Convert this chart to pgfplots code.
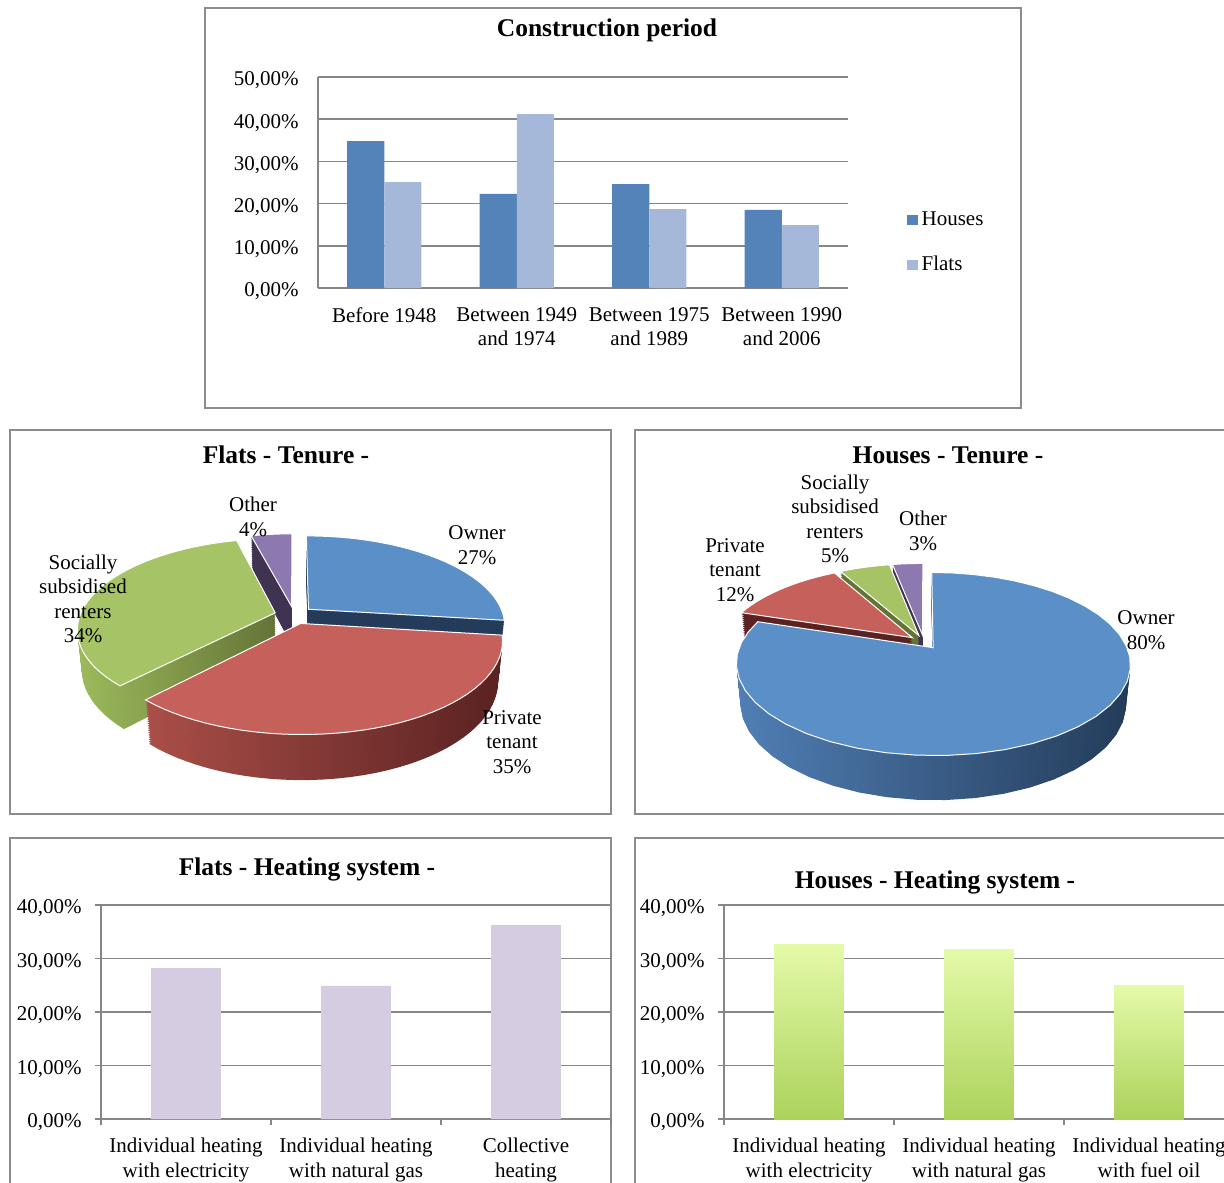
\documentclass[border=0pt]{standalone}
\usepackage{fontspec}
\setmainfont{Liberation Serif}
\usepackage{pgfplots}
\pgfplotsset{compat=1.18}

\definecolor{framec}{RGB}{140,140,140}
\definecolor{gridc}{RGB}{134,134,134}
\definecolor{hblue}{RGB}{83,131,185}
\definecolor{flblue}{RGB}{165,184,218}
\definecolor{lilac}{RGB}{213,204,226}
\definecolor{gtop}{RGB}{228,250,168}
\definecolor{gbot}{RGB}{172,210,92}
\definecolor{pblue}{RGB}{91,143,199}
\definecolor{pred}{RGB}{198,96,91}
\definecolor{pgreen}{RGB}{166,195,102}
\definecolor{ppurple}{RGB}{142,120,176}
\definecolor{dblue}{RGB}{36,60,90}
\definecolor{dbluel}{RGB}{80,126,180}
\definecolor{dred}{RGB}{90,34,33}
\definecolor{dredl}{RGB}{170,78,72}
\definecolor{dgreen}{RGB}{100,116,55}
\definecolor{dgreenl}{RGB}{156,186,91}
\definecolor{dpurple}{RGB}{63,51,82}

\newcommand\lbl{\fontsize{10.5}{12.25}\selectfont}
\newcommand\ttl{\bfseries\fontsize{12.75}{15}\selectfont}

% one pie slice at height z: #1 cx, #2 cy, #3 scale, #4 ex, #5 ey, #6 t1, #7 t2, #8 z, #9 style
\newcommand{\pslice}[9]{%
 \addplot[#9, domain=#6:#7, samples=40]
 ({#1+#3*PXn(#4+cos(x),#5+sin(x),#8)},{#2+#3*PYn(#4+cos(x),#5+sin(x),#8)})
 -- (axis cs:{#1+#3*PXn(#4,#5,#8)},{#2+#3*PYn(#4,#5,#8)}) -- cycle;}
% the side of a slice (union of lower copies)
\newcommand{\pwall}[8]{%
 \pgfplotsinvokeforeach{-0.231,-0.219,-0.207,-0.195,-0.183,-0.171,-0.159,-0.147,-0.135,-0.123,-0.111,-0.099,-0.087,-0.075,-0.063,-0.051,-0.039,-0.027,-0.015,-0.004}{%
 \pslice{#1}{#2}{#3}{#4}{#5}{#6}{#7}{##1}{#8}}}

% ---- pie data (percent) ----
\def\fOwner{27}\def\fPriv{35}\def\fSoc{34}\def\fOth{4}
\def\hOwner{80}\def\hPriv{12}\def\hSoc{5}\def\hOth{3}
\pgfmathsetmacro\fA{90}
\pgfmathsetmacro\fB{\fA-3.6*\fOwner}
\pgfmathsetmacro\fC{\fB-3.6*\fPriv}
\pgfmathsetmacro\fD{\fC-3.6*\fSoc}
\pgfmathsetmacro\fE{\fD-3.6*\fOth}
\pgfmathsetmacro\hA{90}
\pgfmathsetmacro\hB{\hA-3.6*\hOwner}
\pgfmathsetmacro\hC{\hB-3.6*\hPriv}
\pgfmathsetmacro\hD{\hC-3.6*\hSoc}
\pgfmathsetmacro\hE{\hD-3.6*\hOth}
% explosion offsets
\pgfmathsetmacro\fOwX{0.1*cos((\fA+\fB)/2)}\pgfmathsetmacro\fOwY{0.1*sin((\fA+\fB)/2)}
\pgfmathsetmacro\fPrX{0.1*cos((\fB+\fC)/2)}\pgfmathsetmacro\fPrY{0.1*sin((\fB+\fC)/2)}
\pgfmathsetmacro\fSoX{0.1*cos((\fC+\fD)/2)}\pgfmathsetmacro\fSoY{0.1*sin((\fC+\fD)/2)}
\pgfmathsetmacro\fOtX{0.1*cos((\fD+\fE)/2)}\pgfmathsetmacro\fOtY{0.1*sin((\fD+\fE)/2)}
\pgfmathsetmacro\hOwX{0.08*cos((\hA+\hB)/2)}\pgfmathsetmacro\hOwY{0.08*sin((\hA+\hB)/2)}
\pgfmathsetmacro\hPrX{0.08*cos((\hB+\hC)/2)}\pgfmathsetmacro\hPrY{0.08*sin((\hB+\hC)/2)}
\pgfmathsetmacro\hSoX{0.08*cos((\hC+\hD)/2)}\pgfmathsetmacro\hSoY{0.08*sin((\hC+\hD)/2)}
\pgfmathsetmacro\hOtX{0.08*cos((\hD+\hE)/2)}\pgfmathsetmacro\hOtY{0.08*sin((\hD+\hE)/2)}

\begin{document}%
\begin{tikzpicture}[trim left=0pt, trim right=612pt]
\path[use as bounding box] (0,0) rectangle (612pt,-591pt);
\clip (0,0) rectangle (612pt,-591pt);

% ===== canvas: frames, pies, titles =====
\begin{axis}[at={(0pt,0pt)}, anchor=north west, scale only axis,
 width=612pt, height=591pt, xmin=0, xmax=1224, ymin=0, ymax=1182,
 y dir=reverse, hide axis, clip=false,
 declare function={PD(\u,\v,\z)=5.06+0.892*\v-0.452*\z;
   PXn(\u,\v,\z)=\u/PD(\u,\v,\z);
   PYn(\u,\v,\z)=-(0.452*\v+0.892*\z)/PD(\u,\v,\z);}]
 \draw[framec, line width=1pt] (axis cs:205,8) rectangle (axis cs:1021,408);
 \draw[framec, line width=1pt] (axis cs:10,430) rectangle (axis cs:611,814);
 \draw[framec, line width=1pt] (axis cs:635,430) rectangle (axis cs:1250,814);
 \draw[framec, line width=1pt] (axis cs:10,838) rectangle (axis cs:611,1250);
 \draw[framec, line width=1pt] (axis cs:635,838) rectangle (axis cs:1250,1250);

 % ---- Flats pie ----
 \pwall{294}{615}{987}{\fOtX}{\fOtY}{\fE}{\fD}{fill=dpurple,draw=none}
 \pslice{294}{615}{987}{\fOtX}{\fOtY}{\fE}{\fD}{0}{fill=ppurple,draw=white,line width=0.5pt}
 \pwall{294}{615}{987}{\fOwX}{\fOwY}{\fB}{\fA}{fill=dblue,draw=none}
 \pslice{294}{615}{987}{\fOwX}{\fOwY}{\fB}{\fA}{0}{fill=pblue,draw=white,line width=0.5pt}
 \pwall{294}{615}{987}{\fSoX}{\fSoY}{\fD}{\fC}{left color=dgreenl,right color=dgreen,draw=none}
 \pslice{294}{615}{987}{\fSoX}{\fSoY}{\fD}{\fC}{0}{fill=pgreen,draw=white,line width=0.5pt}
 \pwall{294}{615}{987}{\fPrX}{\fPrY}{\fC}{\fB}{left color=dredl,right color=dred,draw=none}
 \pslice{294}{615}{987}{\fPrX}{\fPrY}{\fC}{\fB}{0}{fill=pred,draw=white,line width=0.5pt}

 % ---- Houses pie ----
 \pwall{924}{642}{970}{\hOtX}{\hOtY}{\hE}{\hD}{fill=dpurple,draw=none}
 \pslice{924}{642}{970}{\hOtX}{\hOtY}{\hE}{\hD}{0}{fill=ppurple,draw=white,line width=0.5pt}
 \pwall{924}{642}{970}{\hSoX}{\hSoY}{\hD}{\hC}{fill=dgreen,draw=none}
 \pslice{924}{642}{970}{\hSoX}{\hSoY}{\hD}{\hC}{0}{fill=pgreen,draw=white,line width=0.5pt}
 \pwall{924}{642}{970}{\hPrX}{\hPrY}{\hC}{\hB}{fill=dred,draw=none}
 \pslice{924}{642}{970}{\hPrX}{\hPrY}{\hC}{\hB}{0}{fill=pred,draw=white,line width=0.5pt}
 \pwall{924}{642}{970}{\hOwX}{\hOwY}{\hB}{\hA}{left color=dbluel,right color=dblue,draw=none}
 \pslice{924}{642}{970}{\hOwX}{\hOwY}{\hB}{\hA}{0}{fill=pblue,draw=white,line width=0.5pt}

 % titles
 \node[font=\ttl] at (axis cs:607,30) {Construction period};
 \node[font=\ttl] at (axis cs:286,455) {Flats - Tenure -};
 \node[font=\ttl] at (axis cs:948,455) {Houses - Tenure -};
 \node[font=\ttl] at (axis cs:307,869) {Flats - Heating system -};
 \node[font=\ttl] at (axis cs:935,882) {Houses - Heating system -};
 % pie labels
 \node[font=\lbl, align=center] at (axis cs:253,517) {Other\\4\%};
 \node[font=\lbl, align=center] at (axis cs:477,545) {Owner\\27\%};
 \node[font=\lbl, align=center] at (axis cs:83,599) {Socially\\subsidised\\renters\\34\%};
 \node[font=\lbl, align=center] at (axis cs:512,742) {Private\\tenant\\35\%};
 \node[font=\lbl, align=center] at (axis cs:835,519) {Socially\\subsidised\\renters\\5\%};
 \node[font=\lbl, align=center] at (axis cs:923,531) {Other\\3\%};
 \node[font=\lbl, align=center] at (axis cs:735,570) {Private\\tenant\\12\%};
 \node[font=\lbl, align=center] at (axis cs:1146,630) {Owner\\80\%};
\end{axis}

% ===== Construction period =====
\begin{axis}[at={(159pt,-144pt)}, anchor=south west, scale only axis,
 width=265pt, height=105.5pt,
 xmin=-0.5, xmax=3.5, ymin=0, ymax=50,
 axis lines*=left, axis line style={gridc, line width=0.75pt},
 ymajorgrids, grid style={gridc, line width=0.75pt},
 major tick length=0pt,
 ytick={0,10,20,30,40,50},
 yticklabels={{0,00\%},{10,00\%},{20,00\%},{30,00\%},{40,00\%},{50,00\%}},
 xtick={0,1,2,3},
 xticklabels={Before 1948,{Between 1949\\and 1974},{Between 1975\\and 1989},{Between 1990\\and 2006}},
 tick label style={font=\lbl},
 xticklabel style={align=center, inner sep=0pt, yshift=-9.5pt},
 yticklabel style={inner sep=0pt, xshift=-9.5pt, yshift=-1.75pt},
 legend style={at={(1.111,0.215)}, anchor=west, draw=none, fill=none,
   font=\lbl, row sep=10pt, inner sep=0pt},
 legend cell align=left,
 legend image code/.code={\fill[#1] (0pt,-2.6pt) rectangle (5.2pt,2.6pt);},
]
\addplot[ybar, bar width=0.28, bar shift=-0.14, fill=hblue, draw=none]
 coordinates {(0,34.8) (1,22.3) (2,24.6) (3,18.5)};
\addlegendentry{Houses}
\addplot[ybar, bar width=0.28, bar shift=0.14, fill=flblue, draw=none]
 coordinates {(0,25.1) (1,41.2) (2,18.7) (3,14.9)};
\addlegendentry{Flats}
\end{axis}

% ===== Flats heating =====
\begin{axis}[at={(50.5pt,-559.5pt)}, anchor=south west, scale only axis,
 width=255pt, height=107pt,
 xmin=-0.5, xmax=2.5, ymin=0, ymax=40,
 axis lines*=left, axis line style={gridc, line width=0.75pt},
 ymajorgrids, grid style={gridc, line width=0.75pt},
 tick align=outside, major tick length=3pt, tick style={gridc, line width=0.75pt},
 ytick={0,10,20,30,40},
 yticklabels={{0,00\%},{10,00\%},{20,00\%},{30,00\%},{40,00\%}},
 xtick={-0.5,0.5,1.5,2.5}, xticklabels={},
 extra x ticks={0,1,2},
 extra x tick labels={{Individual heating\\with electricity},{Individual heating\\with natural gas},{Collective\\heating}},
 extra x tick style={major tick length=0pt},
 tick label style={font=\lbl},
 xticklabel style={align=center, inner sep=0pt, yshift=-9.5pt},
 yticklabel style={inner sep=0pt, xshift=-6.5pt, yshift=-1.75pt},
]
\addplot[ybar, bar width=0.41, bar shift=0pt, fill=lilac, draw=none]
 coordinates {(0,28.2) (1,24.9) (2,36.3)};
\end{axis}

% ===== Houses heating =====
\begin{axis}[at={(362pt,-559.5pt)}, anchor=south west, scale only axis,
 width=255pt, height=107pt,
 xmin=-0.5, xmax=2.5, ymin=0, ymax=40,
 axis lines*=left, axis line style={gridc, line width=0.75pt},
 ymajorgrids, grid style={gridc, line width=0.75pt},
 tick align=outside, major tick length=3pt, tick style={gridc, line width=0.75pt},
 ytick={0,10,20,30,40},
 yticklabels={{0,00\%},{10,00\%},{20,00\%},{30,00\%},{40,00\%}},
 xtick={-0.5,0.5,1.5,2.5}, xticklabels={},
 extra x ticks={0,1,2},
 extra x tick labels={{Individual heating\\with electricity},{Individual heating\\with natural gas},{Individual heating\\with fuel oil}},
 extra x tick style={major tick length=0pt},
 tick label style={font=\lbl},
 xticklabel style={align=center, inner sep=0pt, yshift=-9.5pt},
 yticklabel style={inner sep=0pt, xshift=-6.5pt, yshift=-1.75pt},
]
\addplot[ybar, bar width=0.41, bar shift=0pt, top color=gtop, bottom color=gbot, draw=none]
 coordinates {(0,32.7)};
\addplot[ybar, bar width=0.41, bar shift=0pt, top color=gtop, bottom color=gbot, draw=none]
 coordinates {(1,31.6)};
\addplot[ybar, bar width=0.41, bar shift=0pt, top color=gtop, bottom color=gbot, draw=none]
 coordinates {(2,24.9)};
\end{axis}
\end{tikzpicture}%
\end{document}
